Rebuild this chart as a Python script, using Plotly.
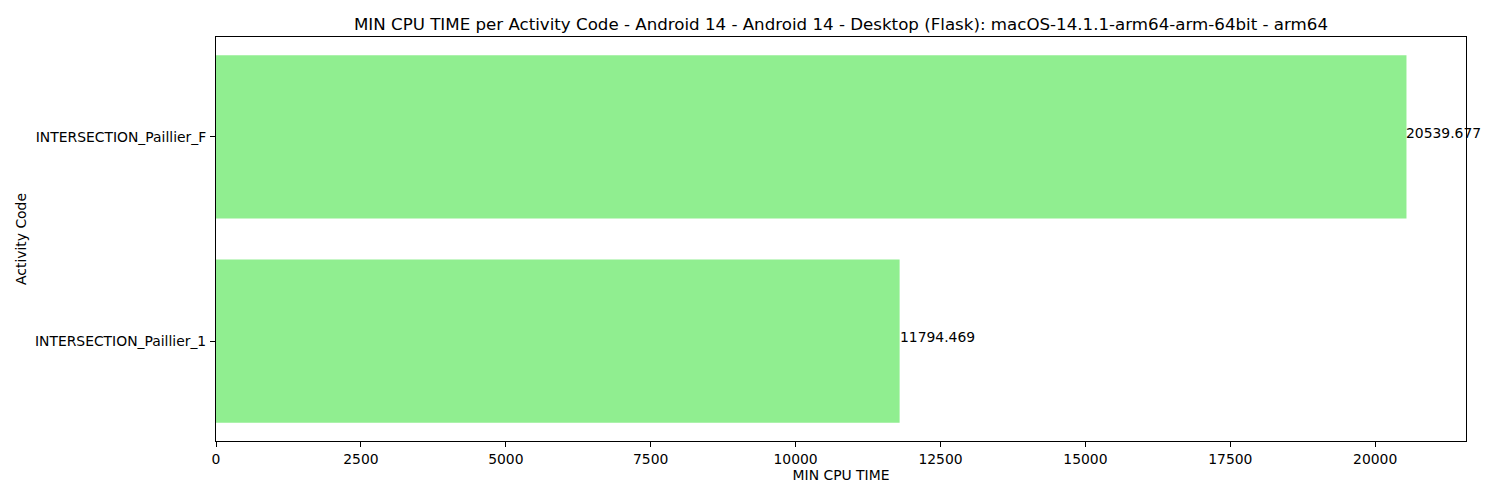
import plotly.graph_objects as go

categories = ["INTERSECTION_Paillier_1", "INTERSECTION_Paillier_F"]
values = [11794.469, 20539.677]
value_labels = ["11794.469", "20539.677"]
x_ticks = [0, 2500, 5000, 7500, 10000, 12500, 15000, 17500, 20000]

font = "DejaVu Sans"
fs = 13.9
fig = go.Figure()
fig.add_trace(go.Bar(
    x=values, y=categories, orientation="h", width=0.8,
    marker=dict(color="#90EE90", line=dict(width=0)),
    hoverinfo="skip",
))
for v, c, t in zip(values, categories, value_labels):
    fig.add_annotation(x=v, y=c, text=t, showarrow=False, xanchor="left",
                       yanchor="bottom", yshift=-6, xshift=-2,
                       font=dict(family=font, size=fs, color="black"))

# page body has an 8px margin, so the figure is sized 1492x492
fig.update_layout(
    width=1492, height=492,
    margin=dict(l=208, r=34, t=29, b=59, autoexpand=False),
    plot_bgcolor="white", paper_bgcolor="white",
    showlegend=False,
    font=dict(family=font, size=fs, color="black"),
    title=dict(text="MIN CPU TIME per Activity Code - Android 14 - Android 14 - Desktop (Flask): macOS-14.1.1-arm64-arm-64bit - arm64",
               x=0.5, xref="paper", xanchor="center", y=1, yref="paper", yanchor="bottom",
               pad=dict(b=7), font=dict(family=font, size=16.67)),
    bargap=0.2,
)
fig.update_xaxes(
    range=[0, max(values) * 1.05], tickvals=x_ticks, ticktext=[str(t) for t in x_ticks],
    showgrid=False, zeroline=False, showline=True, linecolor="black", linewidth=1, mirror=True,
    ticks="outside", ticklen=5, tickcolor="black", ticklabelstandoff=0, automargin=False,
    title=dict(text="MIN CPU TIME", standoff=3, font=dict(family=font, size=fs)),
)
fig.update_yaxes(
    type="category", categoryorder="array", categoryarray=categories,
    range=[-0.49, 1.49],
    showgrid=False, zeroline=False, showline=True, linecolor="black", linewidth=1, mirror=True,
    ticks="outside", ticklen=5, tickcolor="black", ticklabelstandoff=1, automargin=False,
    title=dict(text="Activity Code", standoff=5, font=dict(family=font, size=fs)),
)
fig.write_html("out.html")
